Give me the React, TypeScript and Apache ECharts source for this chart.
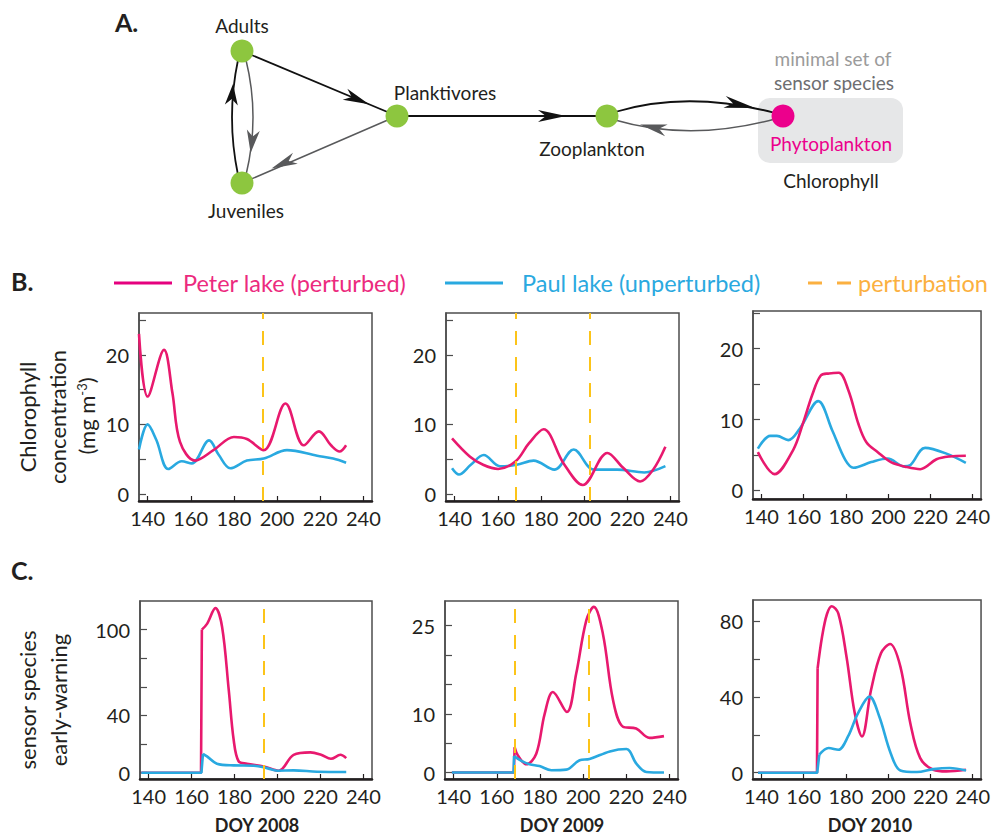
import React, { useEffect, useRef } from "react";
import * as echarts from "echarts";

const FONT = "Lato, 'Open Sans', sans-serif";
const INK = "#231f20";
const PINK = "#e8196e";
const BLUE = "#29a9e0";
const GOLD = "#fcc419";
const GREEN = "#8dc63f";
const MAGENTA = "#ec008c";

// axis ticks / labels
const xTicks = [140, 160, 180, 200, 220, 240];
const chlTicks = [0, 5, 10, 15, 20, 25];
const chlLabels = [0, 10, 20];
const ew2008Ticks = [0, 20, 40, 60, 80, 100];
const ew2008Labels = [0, 40, 100];
const ew2009Ticks = [0, 5, 10, 15, 20, 25];
const ew2009Labels = [0, 10, 25];
const ew2010Ticks = [0, 20, 40, 60, 80];
const ew2010Labels = [0, 40, 80];

// perturbation days
const perturb2008 = [193.5];
const perturb2009 = [168.5, 202.5];
const perturb2010: number[] = [];

// B. chlorophyll concentration (DOY, mg m^-3)
const peterChl2008 = [[136, 23.0], [140, 14.0], [147.6, 20.7], [151.5, 14.5], [155, 7.5], [162, 4.8], [170.5, 6.3], [180, 8.2], [186, 7.9], [193.8, 6.3], [203.9, 13.0], [212.4, 7.0], [219.4, 9.0], [225, 7.0], [229, 6.1], [232, 7.0]];
const paulChl2008 = [[136, 6.4], [140, 10.0], [144, 7.8], [149.6, 3.6], [155.8, 4.7], [160.5, 4.4], [168.5, 7.7], [173, 5.6], [178.3, 3.7], [186, 4.8], [193.8, 5.1], [204.6, 6.3], [218.6, 5.5], [226, 5.1], [232, 4.5]];
const peterChl2009 = [[138.8, 8.0], [147, 5.4], [153.2, 4.2], [160.2, 3.6], [168.3, 4.7], [174.5, 7.3], [181.2, 9.3], [190.5, 4.4], [199.4, 1.3], [210.8, 5.9], [218, 3.8], [226, 1.8], [232, 3.5], [237.7, 6.8]];
const paulChl2009 = [[138.8, 3.7], [142, 2.8], [147.5, 4.2], [153.5, 5.6], [161, 4.0], [168.8, 4.2], [176.6, 4.8], [186.2, 3.5], [195.2, 6.4], [204.5, 3.5], [215.4, 3.5], [227.9, 3.1], [237.7, 4.0]];
const peterChl2010 = [[138.3, 5.4], [146.2, 2.3], [155, 5.7], [159.6, 9.4], [164.2, 13.6], [168.1, 16.2], [172, 16.5], [176.6, 16.6], [181.2, 14.1], [185.9, 9.4], [189.7, 6.8], [195.1, 5.4], [201.3, 4.0], [209, 3.3], [215.2, 3.0], [222.9, 4.4], [229.1, 4.8], [236.8, 4.9]];
const paulChl2010 = [[138.3, 5.9], [144.2, 7.7], [147.3, 7.7], [152.7, 7.1], [158.1, 8.7], [166.9, 12.6], [173.5, 8.5], [179.7, 4.3], [183.6, 3.2], [192, 4.0], [199.8, 4.5], [207.5, 3.4], [210.6, 3.6], [217.5, 6.0], [227.6, 5.2], [236.8, 3.9]];

// C. sensor species early-warning
const peterEwBase2008 = [[136.6, 0], [164.4, 0], [164.8, 100]];
const peterEw2008 = [[164.8, 100], [167.2, 104], [171.1, 115], [174.2, 102], [177.3, 58], [179.6, 23], [181.9, 8], [185.8, 6.3], [193.6, 4.4], [200.6, 1.4], [207.5, 12.5], [215.3, 14.2], [220.3, 12.5], [224.9, 9.7], [229.3, 12.5], [232, 10.2]];
const paulEwBase2008 = [[136.6, 0], [164.6, 0], [165.3, 13.2]];
const paulEw2008 = [[165.3, 13.2], [167.2, 11.4], [171.8, 6.3], [179.6, 5.1], [188.9, 4.9], [195.1, 3.2], [199.8, 1.4], [207.5, 1.6], [218.4, 0.7], [232, 0.5]];
const peterEwBase2009 = [[139.2, 0], [167.9, 0], [168.3, 4.3]];
const peterEw2009 = [[168.3, 4.3], [169.8, 2.9], [173.7, 1.4], [178.3, 3.2], [182.2, 10.0], [186, 13.7], [192.5, 10.3], [196.8, 16.8], [201.5, 25.9], [205, 28.2], [209.2, 23.6], [213.9, 12.3], [218.5, 7.8], [224.6, 7.5], [230.8, 5.9], [237.5, 6.2]];
const paulEwBase2009 = [[139.2, 0], [167.8, 0], [168, 2.8]];
const paulEw2009 = [[168, 2.8], [171.4, 2.0], [175.2, 1.4], [179.8, 1.1], [185.3, 0.4], [192.2, 0.5], [198.4, 2.1], [203, 2.3], [212.4, 3.6], [220.1, 4.0], [224.7, 1.5], [229.3, 0.1], [237.5, 0]];
const peterEwBase2010 = [[138.4, 0], [166.3, 0], [166.6, 55]];
const peterEw2010 = [[166.6, 55], [168.7, 71.6], [171, 83.5], [173.3, 87.7], [176.4, 83.9], [180.3, 61], [184.2, 31.3], [187.6, 19.1], [191.9, 43.6], [196.6, 62.9], [200.9, 67.8], [205.8, 55.9], [210.5, 26.1], [215.2, 7.7], [221.4, 1.6], [227.6, 0.7], [236.9, 1.6]];
const paulEwBase2010 = [[138.4, 0], [166.4, 0], [167.4, 9.5]];
const paulEw2010 = [[167.4, 9.5], [171.8, 13], [176.4, 12.1], [181, 19.1], [185.7, 31.3], [191.2, 40.1], [195.8, 29.6], [201.2, 10.3], [205.8, 1.2], [213.6, 0.35], [221.4, 1.9], [229.1, 2.5], [236.9, 1.2]];

const grids = [
  { left: 139, top: 313, width: 233, height: 188 },
  { left: 446, top: 313, width: 233, height: 188 },
  { left: 753, top: 311, width: 232, height: 188 },
  { left: 140, top: 601, width: 232, height: 178 },
  { left: 445, top: 601, width: 233, height: 178 },
  { left: 753, top: 600, width: 232, height: 179 },
];

const yRanges = [
  [-1, 26], [-1, 26], [-1.2, 25.3],
  [-4.4, 120], [-1.1, 29.2], [-3.3, 91],
];
const yTickSets = [chlTicks, chlTicks, chlTicks, ew2008Ticks, ew2009Ticks, ew2010Ticks];
const yLabelSets = [chlLabels, chlLabels, chlLabels, ew2008Labels, ew2009Labels, ew2010Labels];

function xAxisFor(gi: number) {
  return {
    type: "value", gridIndex: gi, min: 136, max: 244,
    axisLine: { show: true, onZero: false, lineStyle: { color: INK, width: 2.5 } },
    axisTick: { show: true, inside: true, length: 5, customValues: xTicks, lineStyle: { color: INK, width: 1.2 } },
    axisLabel: { show: true, customValues: xTicks, fontSize: 20, color: INK, margin: 7, fontFamily: FONT },
    splitLine: { show: false },
  };
}
function yAxisFor(gi: number) {
  return {
    type: "value", gridIndex: gi, min: yRanges[gi][0], max: yRanges[gi][1],
    axisLine: { show: true, onZero: false, lineStyle: { color: "#4d4d4d", width: 1.5 } },
    axisTick: { show: true, inside: true, length: 7, customValues: yTickSets[gi], lineStyle: { color: "#4d4d4d", width: 1.2 } },
    axisLabel: { show: true, customValues: yLabelSets[gi], fontSize: 20, color: INK, margin: 10, fontFamily: FONT },
    splitLine: { show: false },
  };
}

function line(data: number[][], color: string, gi: number, smooth: boolean, marks?: number[]) {
  const s: any = {
    type: "line", xAxisIndex: gi, yAxisIndex: gi, data,
    smooth: smooth ? 0.35 : false, symbol: "none", silent: true,
    lineStyle: { color, width: 2.6 }, itemStyle: { color },
  };
  if (marks && marks.length) {
    s.markLine = {
      silent: true, symbol: ["none", "none"], label: { show: false },
      lineStyle: { color: GOLD, width: 2, type: [14, 12] },
      data: marks.map((m) => ({ xAxis: m })),
    };
  }
  return s;
}

function arrowHead(tx: number, ty: number, dx: number, dy: number, color: string, L = 26, W = 6) {
  const len = Math.hypot(dx, dy);
  const ux = dx / len, uy = dy / len;
  const nx = -uy, ny = ux;
  const notch = L * 0.28;
  return {
    type: "polygon", z: 20,
    shape: { points: [[tx, ty], [tx - L * ux + W * nx, ty - L * uy + W * ny], [tx - (L - notch) * ux, ty - (L - notch) * uy], [tx - L * ux - W * nx, ty - L * uy - W * ny]] },
    style: { fill: color },
  };
}

function txt(text: string, x: number, y: number, size: number, fill: string, extra: any = {}) {
  const va = extra.valign || "middle";
  return {
    type: "text", x, y, z: 30, rotation: extra.rotation || 0,
    style: {
      text, fill, fontSize: size, fontFamily: FONT, fontWeight: extra.bold ? "bold" : "normal",
      align: extra.align || "center", verticalAlign: va,
      textAlign: extra.align || "center", textVerticalAlign: va,
      rich: extra.rich,
    },
  };
}

function buildOption() {
  const GRAY_EDGE = "#58595b";
  const graphic: any[] = [
    // panel labels
    txt("A.", 115, 22, 25, INK, { bold: true, align: "left" }),
    txt("B.", 11, 281, 25, INK, { bold: true, align: "left" }),
    txt("C.", 11, 570, 25, INK, { bold: true, align: "left" }),
    // network A: sensor box
    { type: "rect", z: 1, shape: { x: 758, y: 98, width: 145, height: 65, r: 12 }, style: { fill: "#e6e7e8" } },
    // edges
    { type: "line", z: 5, shape: { x1: 242, y1: 51, x2: 397, y2: 116 }, style: { stroke: "#111", lineWidth: 1.8 } },
    arrowHead(369, 104.3, 155, 65, "#111"),
    { type: "line", z: 5, shape: { x1: 397, y1: 116, x2: 242, y2: 183 }, style: { stroke: GRAY_EDGE, lineWidth: 1.5 } },
    arrowHead(271.5, 168.5, -155, 67, GRAY_EDGE),
    { type: "bezierCurve", z: 5, shape: { x1: 238, y1: 175, x2: 238, y2: 60, cpx1: 226, cpy1: 117 }, style: { stroke: "#111", lineWidth: 1.8, fill: "none" } },
    arrowHead(233, 84, 0.08, -1, "#111", 21, 6.5),
    { type: "bezierCurve", z: 5, shape: { x1: 246, y1: 60, x2: 246, y2: 175, cpx1: 260, cpy1: 117 }, style: { stroke: GRAY_EDGE, lineWidth: 1.5, fill: "none" } },
    arrowHead(250.6, 153, -0.12, 1, GRAY_EDGE, 23, 6.5),
    { type: "line", z: 5, shape: { x1: 397, y1: 116, x2: 607, y2: 116 }, style: { stroke: "#111", lineWidth: 1.8 } },
    arrowHead(566, 116, 1, 0, "#111", 28),
    { type: "bezierCurve", z: 5, shape: { x1: 615, y1: 112, x2: 775, y2: 113, cpx1: 688, cpy1: 90 }, style: { stroke: "#111", lineWidth: 1.8, fill: "none" } },
    arrowHead(755, 108, 1, 0.2, "#111", 31),
    { type: "bezierCurve", z: 5, shape: { x1: 775, y1: 119, x2: 615, y2: 120, cpx1: 690, cpy1: 142 }, style: { stroke: GRAY_EDGE, lineWidth: 1.5, fill: "none" } },
    arrowHead(640, 124.5, -1, -0.22, GRAY_EDGE, 27),
    // nodes
    { type: "circle", z: 10, shape: { cx: 242, cy: 51, r: 11.5 }, style: { fill: GREEN } },
    { type: "circle", z: 10, shape: { cx: 242, cy: 183, r: 11.5 }, style: { fill: GREEN } },
    { type: "circle", z: 10, shape: { cx: 397, cy: 116, r: 11.5 }, style: { fill: GREEN } },
    { type: "circle", z: 10, shape: { cx: 607, cy: 116, r: 11.5 }, style: { fill: GREEN } },
    { type: "circle", z: 10, shape: { cx: 783, cy: 116, r: 11.5 }, style: { fill: MAGENTA } },
    // node labels
    txt("Adults", 242, 25, 19, INK),
    txt("Juveniles", 246, 210, 19, INK),
    txt("Planktivores", 445, 92, 19, INK),
    txt("Zooplankton", 592, 148, 19, INK),
    txt("minimal set of", 833, 58, 19, "#9b9b9b"),
    txt("sensor species", 834, 82, 19, "#6d6e71"),
    txt("Phytoplankton", 831, 143, 19, MAGENTA),
    txt("Chlorophyll", 831, 180, 19, INK),
    // legend
    { type: "line", z: 5, shape: { x1: 114, y1: 283, x2: 172, y2: 283 }, style: { stroke: "#e5007e", lineWidth: 3 } },
    txt("Peter lake (perturbed)", 183, 283, 23.5, "#ec2a7e", { align: "left" }),
    { type: "line", z: 5, shape: { x1: 445, y1: 283, x2: 503, y2: 283 }, style: { stroke: BLUE, lineWidth: 3 } },
    txt("Paul lake (unperturbed)", 522, 283, 23.5, "#2aa9e0", { align: "left" }),
    { type: "line", z: 5, shape: { x1: 808, y1: 283, x2: 851, y2: 283 }, style: { stroke: "#fbb040", lineWidth: 3, lineDash: [14, 15] } },
    txt("perturbation", 858, 283, 23.5, "#fbb040", { align: "left" }),
    // y axis names
    txt("Chlorophyll", 27, 417, 22, INK, { rotation: Math.PI / 2 }),
    txt("concentration", 57, 417, 22, INK, { rotation: Math.PI / 2 }),
    txt("{a|(mg m}{s|-3}{a|)}", 86, 416, 22, INK, {
      rotation: Math.PI / 2,
      rich: { a: { fontSize: 22, fontFamily: FONT, fill: INK, color: INK }, s: { fontSize: 13, fontFamily: FONT, verticalAlign: "top", color: INK, fill: INK } },
    }),
    txt("sensor species", 27, 700, 22, INK, { rotation: Math.PI / 2 }),
    txt("early-warning", 58, 700, 22, INK, { rotation: Math.PI / 2 }),
    // x axis names
    txt("DOY 2008", 257, 834, 18, INK, { bold: true, valign: "bottom" }),
    txt("DOY 2009", 562, 834, 18, INK, { bold: true, valign: "bottom" }),
    txt("DOY 2010", 870, 834, 18, INK, { bold: true, valign: "bottom" }),
  ];

  const series = [
    line(paulChl2008, BLUE, 0, true, perturb2008),
    line(peterChl2008, PINK, 0, true),
    line(paulChl2009, BLUE, 1, true, perturb2009),
    line(peterChl2009, PINK, 1, true),
    line(paulChl2010, BLUE, 2, true, perturb2010),
    line(peterChl2010, PINK, 2, true),
    line(peterEwBase2008, PINK, 3, false, perturb2008),
    line(peterEw2008, PINK, 3, true),
    line(paulEwBase2008, BLUE, 3, false),
    line(paulEw2008, BLUE, 3, true),
    line(peterEwBase2009, PINK, 4, false, perturb2009),
    line(peterEw2009, PINK, 4, true),
    line(paulEwBase2009, BLUE, 4, false),
    line(paulEw2009, BLUE, 4, true),
    line(peterEwBase2010, PINK, 5, false, perturb2010),
    line(peterEw2010, PINK, 5, true),
    line(paulEwBase2010, BLUE, 5, false),
    line(paulEw2010, BLUE, 5, true),
  ];

  return {
    animation: false,
    backgroundColor: "#fff",
    textStyle: { fontFamily: FONT },
    grid: grids.map((g) => ({ ...g, show: true, borderColor: "#4d4d4d", borderWidth: 1.5, backgroundColor: "transparent", containLabel: false })),
    xAxis: grids.map((_, i) => xAxisFor(i)),
    yAxis: grids.map((_, i) => yAxisFor(i)),
    series,
    graphic,
  };
}

export default function App() {
  const ref = useRef<HTMLDivElement>(null);
  useEffect(() => {
    if (!ref.current) return;
    const chart = echarts.init(ref.current, null, { renderer: "svg" });
    chart.setOption(buildOption() as any);
    return () => chart.dispose();
  }, []);
  return (
    <div
      ref={ref}
      style={{ position: "absolute", left: 0, top: 0, width: 993, height: 835, background: "#fff" }}
    />
  );
}
